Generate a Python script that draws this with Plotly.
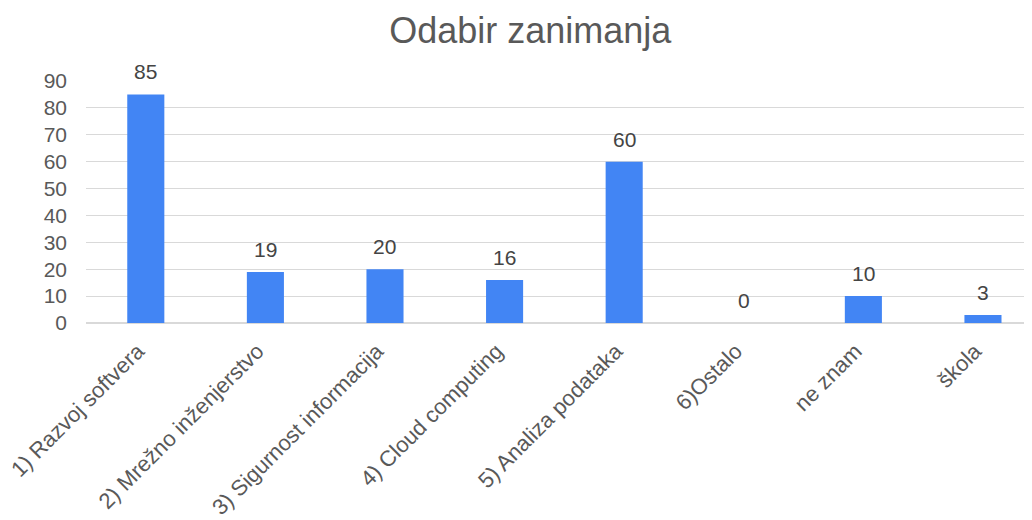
import plotly.graph_objects as go

categories = [
    "1) Razvoj softvera",
    "2) Mrežno inženjerstvo",
    "3) Sigurnost informacija",
    "4) Cloud computing",
    "5) Analiza podataka",
    "6)Ostalo",
    "ne znam",
    "škola",
]
counts = [85, 19, 20, 16, 60, 0, 10, 3]
y_ticks = list(range(0, 91, 10))

font_family = "Liberation Sans, Arial, sans-serif"
grey = "#595959"

fig = go.Figure(
    go.Bar(
        x=categories,
        y=counts,
        width=0.31,
        marker=dict(color="#4285F4", line=dict(width=0)),
        cliponaxis=False,
        hoverinfo="x+y",
    )
)

# value labels above bars
for cat, val in zip(categories, counts):
    fig.add_annotation(
        x=cat, y=val, text=str(val),
        showarrow=False, yanchor="bottom", yshift=9,
        font=dict(size=21, color="#444444", family=font_family),
    )

# page body has an 8px margin, so the figure is a bit smaller than the window
fig.update_layout(
    width=1024,
    height=512,
    margin=dict(l=78, r=0, t=73, b=197),
    paper_bgcolor="white",
    plot_bgcolor="white",
    showlegend=False,
    title=dict(
        text="Odabir zanimanja",
        x=0.51,
        xanchor="center",
        y=0.957,
        yanchor="middle",
        font=dict(size=36, color=grey, family=font_family),
    ),
    font=dict(family=font_family, color=grey),
)

fig.update_xaxes(
    range=[-0.5, 7.41],
    tickangle=-45,
    tickfont=dict(size=22, color=grey),
    ticklabelstandoff=10,
    ticklabelshift=-8,
    showgrid=False,
    showline=False,
    ticks="",
    automargin=False,
)
fig.update_yaxes(
    range=[0, 90],
    tickvals=y_ticks,
    tickfont=dict(size=21, color=grey),
    gridcolor="#d9d9d9",
    gridwidth=1,
    zeroline=True,
    zerolinecolor="#d9d9d9",
    ticklabelstandoff=18,
    showline=False,
    automargin=False,
)

fig.write_html("out.html")
